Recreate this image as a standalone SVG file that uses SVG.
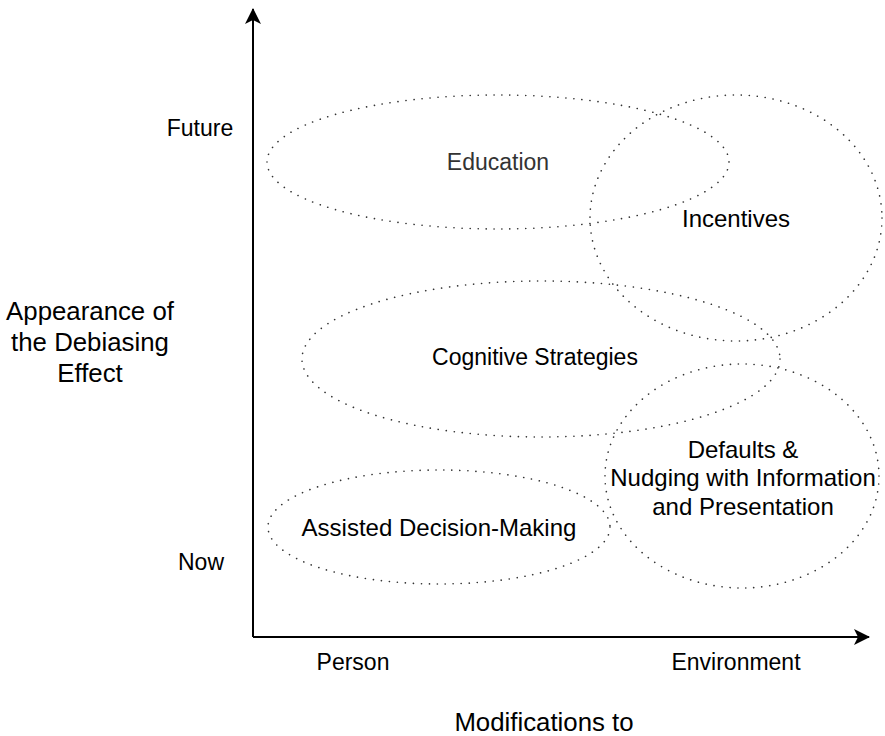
<svg xmlns="http://www.w3.org/2000/svg" width="885" height="736" viewBox="0 0 885 736">
  <style>
    .region { fill: none; stroke: #333; stroke-width: 1.6; stroke-dasharray: 0.1 7.9; stroke-linecap: round; }
    .axis { fill: none; stroke: #000; stroke-width: 2; }
    text { font-family: "Liberation Sans", Arial, sans-serif; font-size: 23px; fill: #000; text-anchor: middle; dominant-baseline: central; }
    .soft { fill: #333; }
    .big { font-size: 24px; }
    .title { font-size: 25.8px; }
  </style>
  <defs>
    <marker id="arrow" viewBox="0 0 16 16" refX="15" refY="8" markerWidth="16" markerHeight="16" markerUnits="userSpaceOnUse" orient="auto">
      <path d="M0,0 L16,8 L0,16 L4,8 Z" fill="#000"/>
    </marker>
  </defs>
  <rect width="885" height="736" fill="#fff"/>

  <g id="connectors">
    <path class="axis" d="M253,637 L253,9" marker-end="url(#arrow)"/>
    <path class="axis" d="M253,637 L869,637" marker-end="url(#arrow)"/>
  </g>

  <g id="education">
    <ellipse class="region" cx="498" cy="162" rx="231" ry="67"/>
    <text class="soft" x="498" y="162">Education</text>
  </g>
  <g id="incentives">
    <ellipse class="region" cx="736" cy="218" rx="146" ry="123"/>
    <text class="big" x="736" y="218">Incentives</text>
  </g>
  <g id="cognitive-strategies">
    <ellipse class="region" cx="541" cy="359" rx="239" ry="78"/>
    <text x="535" y="357">Cognitive Strategies</text>
  </g>
  <g id="defaults-nudging">
    <ellipse class="region" cx="742" cy="476" rx="137" ry="112"/>
    <text class="big" x="743" y="449">Defaults &amp;</text>
    <text class="big" x="743" y="477">Nudging with Information</text>
    <text class="big" x="743" y="506">and Presentation</text>
  </g>
  <g id="assisted-decision-making">
    <ellipse class="region" cx="439" cy="527" rx="171" ry="57"/>
    <text class="big" x="439" y="527">Assisted Decision-Making</text>
  </g>

  <g id="axis-labels">
    <text x="200" y="128">Future</text>
    <text x="201" y="562">Now</text>
    <text class="title" x="90" y="311">Appearance of</text>
    <text class="title" x="90" y="342">the Debiasing</text>
    <text class="title" x="90" y="373">Effect</text>
    <text x="353" y="662">Person</text>
    <text x="736" y="662">Environment</text>
    <text class="title" x="544" y="722">Modifications to</text>
  </g>
</svg>
